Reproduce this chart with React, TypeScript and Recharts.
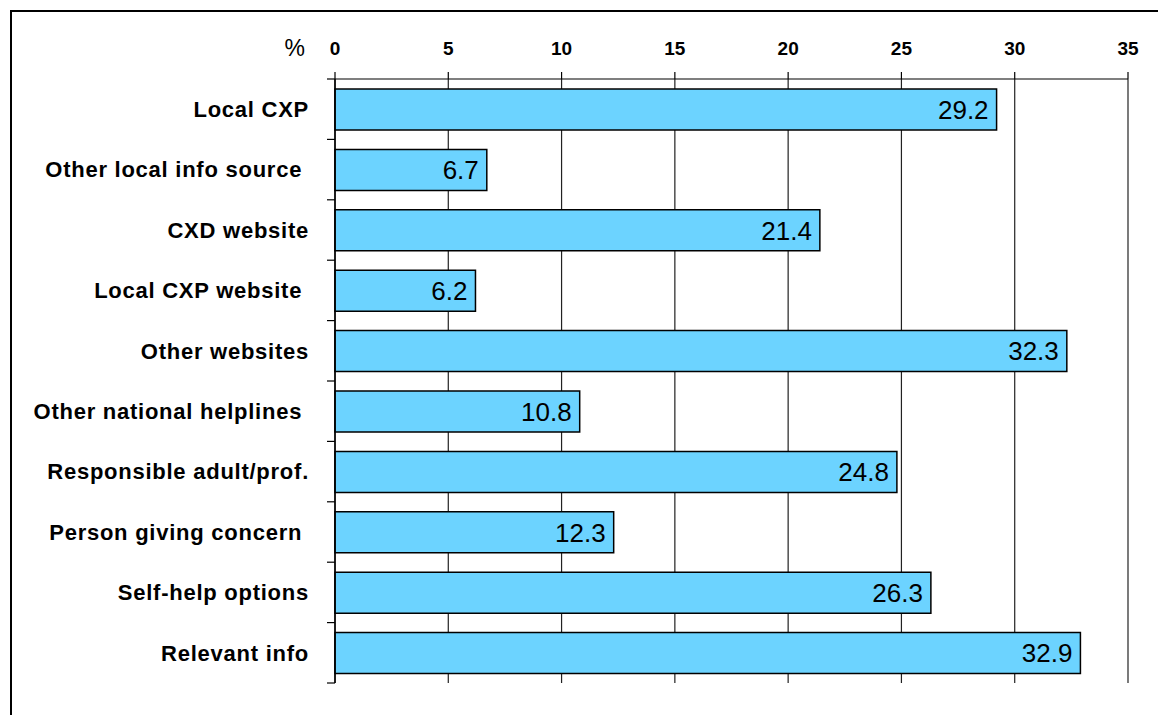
import React from "react";
import { BarChart, Bar, XAxis, YAxis, CartesianGrid, LabelList } from "recharts";

const categories = [
  "Local CXP",
  "Other local info source ",
  "CXD website",
  "Local CXP website ",
  "Other websites",
  "Other national helplines ",
  "Responsible adult/prof.",
  "Person giving concern ",
  "Self-help options",
  "Relevant info",
];
const percentages = [29.2, 6.7, 21.4, 6.2, 32.3, 10.8, 24.8, 12.3, 26.3, 32.9];
const xTicks = [0, 5, 10, 15, 20, 25, 30, 35];

const PLOT_TOP = 79;
const PLOT_BOTTOM = 683;
const BAND = (PLOT_BOTTOM - PLOT_TOP) / categories.length;

const data = categories.map((name, i) => ({ name, value: percentages[i] }));

function XTick(props: any) {
  const { x, y, payload, index } = props;
  return (
    <g>
      {index === 0 && (
        <text x={x - 30} y={y + 1} textAnchor="end" fontSize={23} fill="#000">
          %
        </text>
      )}
      <text x={x} y={y} textAnchor="middle" fontSize={19} fontWeight="bold" fill="#000">
        {payload.value}
      </text>
    </g>
  );
}

function CatTick(props: any) {
  const { x, y, payload, index } = props;
  const last = index === categories.length - 1;
  return (
    <g>
      <text
        x={x - 26}
        y={y}
        dy="0.35em"
        textAnchor="end"
        fontSize={22}
        fontWeight="bold"
        fill="#000"
        style={{ letterSpacing: 0.75, whiteSpace: "pre" }}
      >
        {payload.value}
      </text>
      <line x1={x - 8} x2={x} y1={y - BAND / 2} y2={y - BAND / 2} stroke="#000" strokeWidth={1.2} />
      {last && (
        <line x1={x - 8} x2={x} y1={y + BAND / 2} y2={y + BAND / 2} stroke="#000" strokeWidth={1.2} />
      )}
    </g>
  );
}

export default function App() {
  return (
    <div
      style={{
        position: "fixed",
        left: 0,
        top: 0,
        width: 1158,
        height: 715,
        overflow: "hidden",
        background: "#fff",
        fontFamily: "'Liberation Sans', Arial, sans-serif",
      }}
    >
      <div
        style={{
          position: "absolute",
          left: 10,
          top: 10,
          width: 1200,
          height: 760,
          borderLeft: "2px solid #000",
          borderTop: "2px solid #000",
        }}
      />
      <div style={{ position: "absolute", left: 0, top: 0 }}>
        <BarChart
          width={1158}
          height={715}
          data={data}
          layout="vertical"
          margin={{ top: PLOT_TOP - 40, right: 30, bottom: 715 - PLOT_BOTTOM, left: 0 }}
          barSize={41}
        >
          <CartesianGrid horizontal={false} vertical stroke="#222" strokeWidth={1.2} />
          <XAxis
            type="number"
            orientation="top"
            domain={[0, 35]}
            ticks={xTicks}
            interval={0}
            height={40}
            tickSize={7}
            tickMargin={17}
            tick={(p: any) => <XTick {...p} />}
            axisLine={{ stroke: "#000", strokeWidth: 1.2 }}
            tickLine={{ stroke: "#000", strokeWidth: 1.2 }}
          />
          <YAxis
            type="category"
            dataKey="name"
            width={335}
            interval={0}
            tickSize={0}
            tickMargin={0}
            tickLine={false}
            axisLine={{ stroke: "#000", strokeWidth: 1.5 }}
            tick={(p: any) => <CatTick {...p} />}
          />
          <Bar dataKey="value" fill="#6CD3FF" stroke="#000" strokeWidth={1.5} isAnimationActive={false}>
            <LabelList
              dataKey="value"
              position="insideRight"
              offset={8}
              formatter={(v: any) => Number(v).toFixed(1)}
              style={{ fontSize: 26, fill: "#000" }}
            />
          </Bar>
        </BarChart>
      </div>
    </div>
  );
}
